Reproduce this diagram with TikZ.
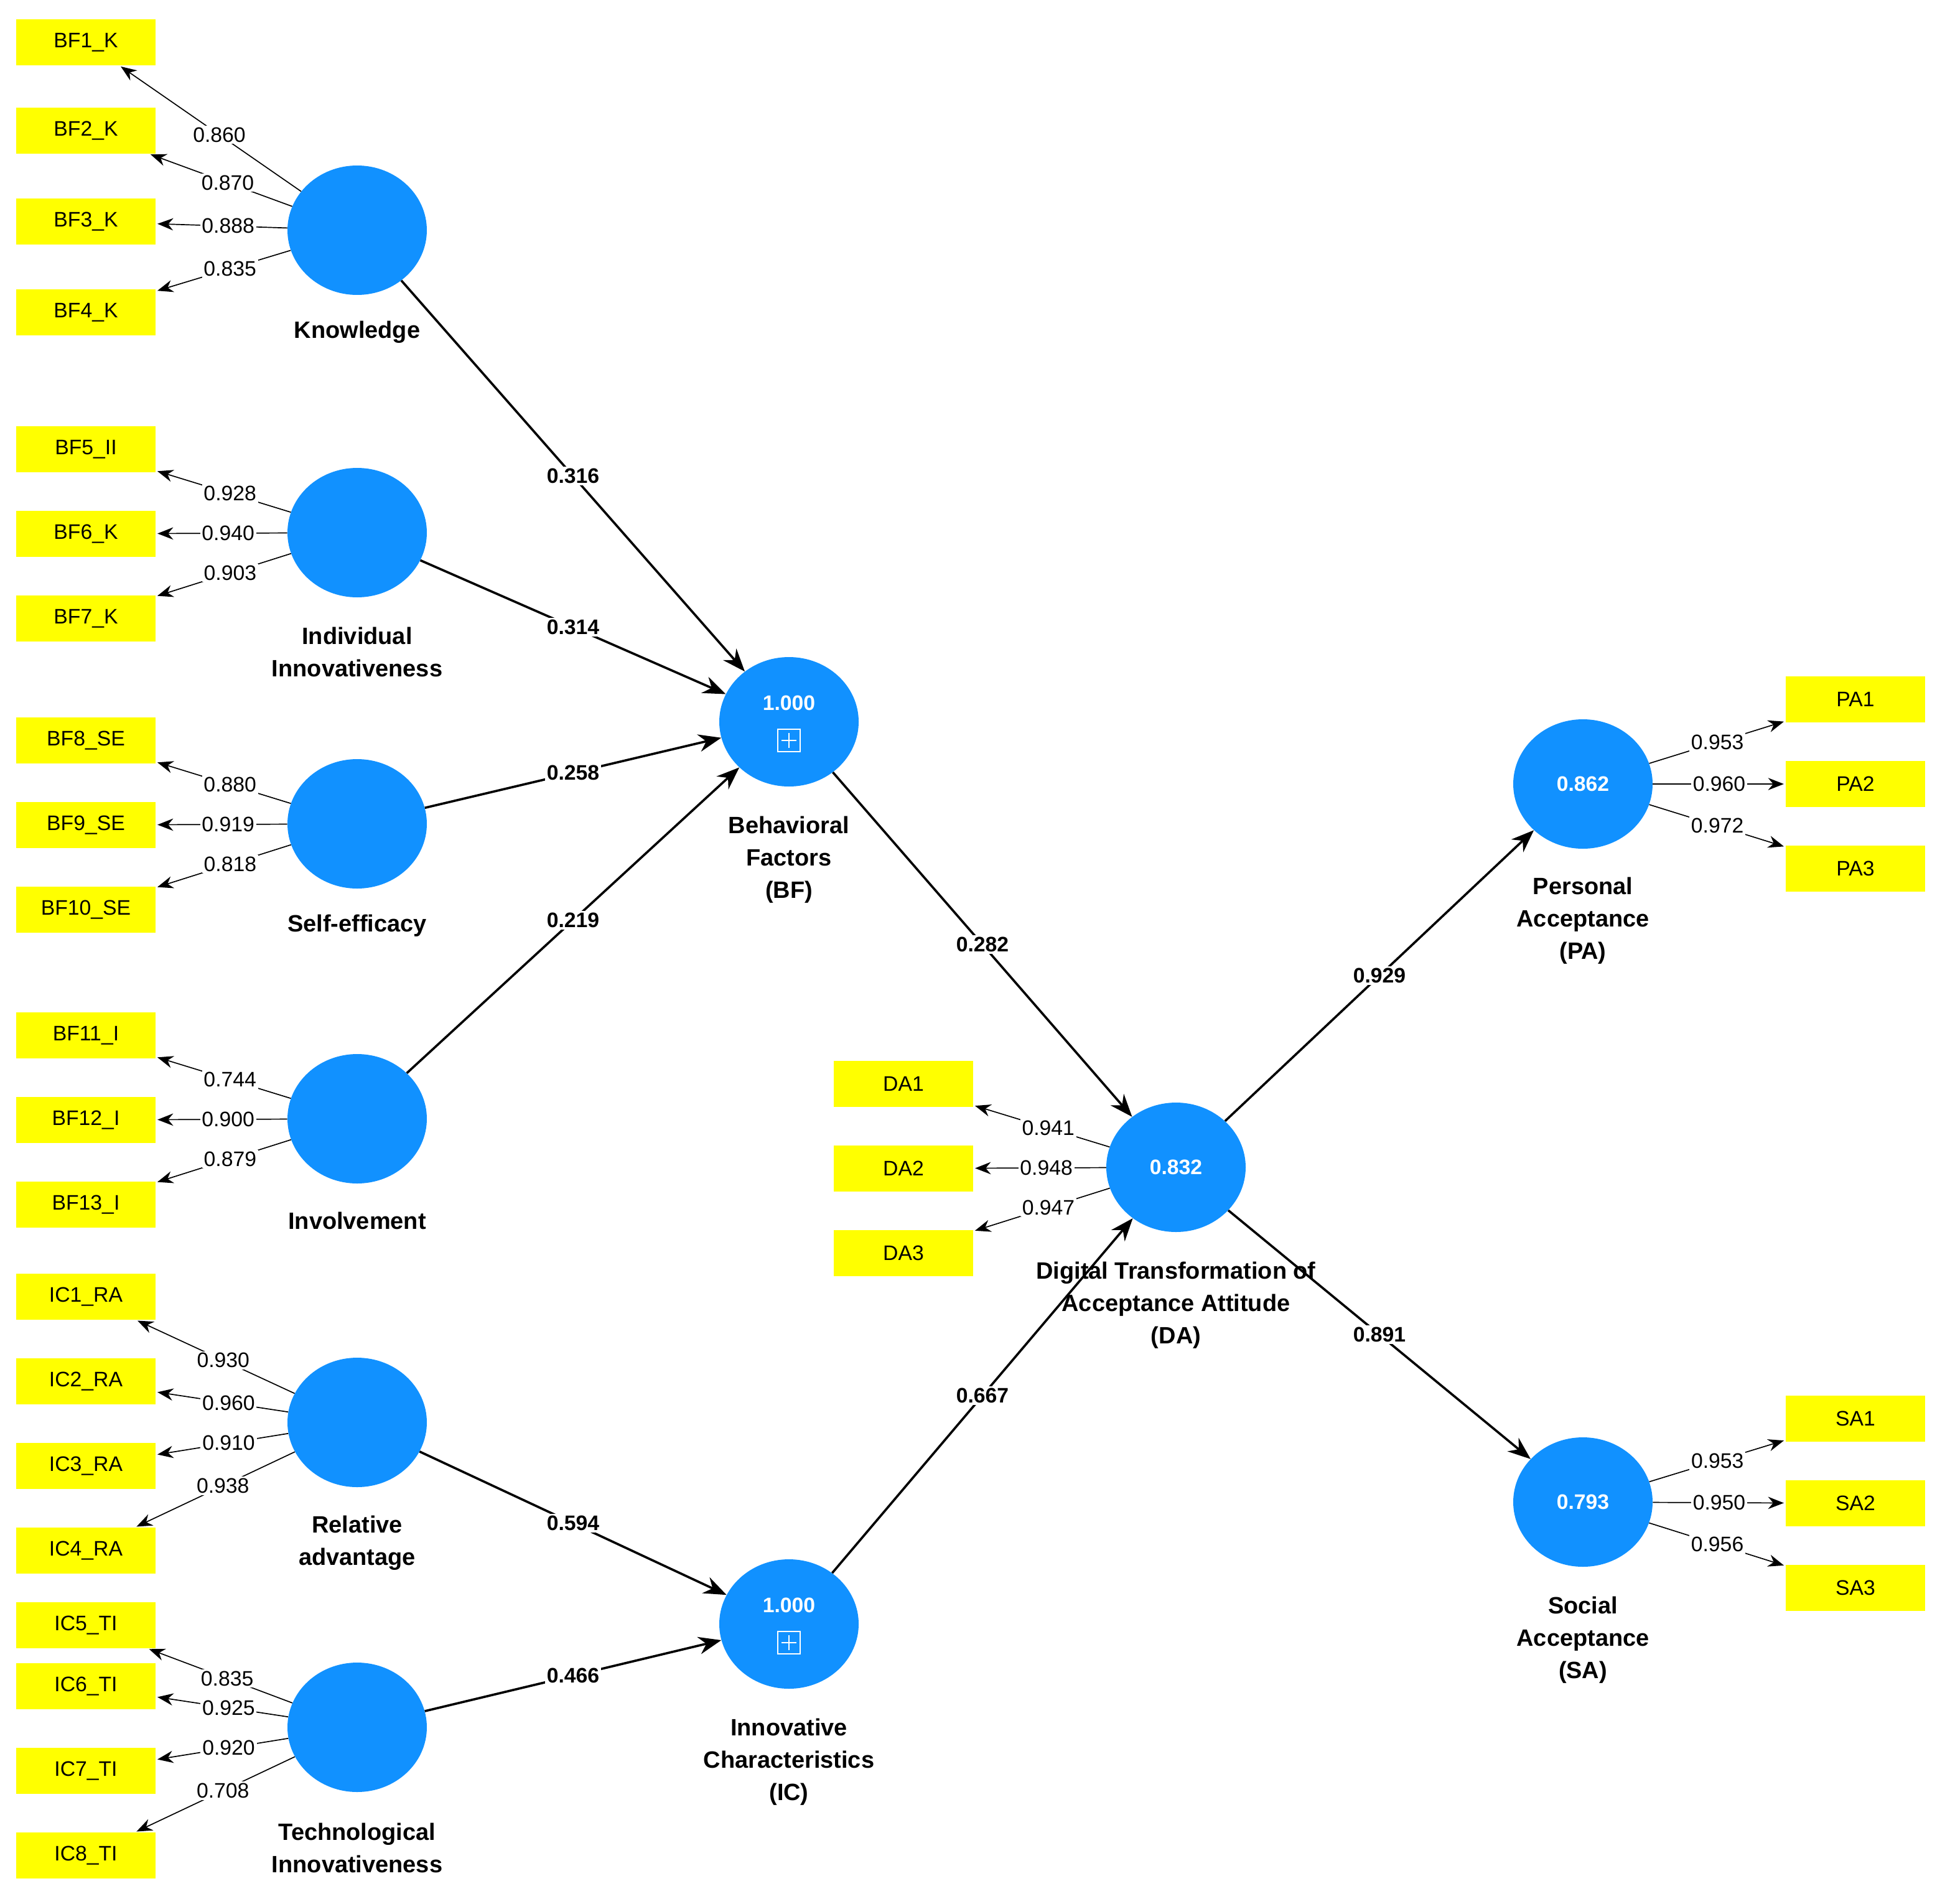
\documentclass[tikz,border=0pt]{standalone}
\usepackage{fontspec}
\setmainfont{Liberation Sans}
\usetikzlibrary{arrows.meta,shapes.geometric}
\definecolor{cblue}{RGB}{17,145,255}
\definecolor{cyel}{RGB}{255,255,0}
\begin{document}
\begin{tikzpicture}[x=0.05cm,y=-0.05cm,
 lv/.style={ellipse,fill=cblue,minimum width=5.6cm,minimum height=5.2cm,inner sep=0pt,text=white,font=\fontsize{24}{28}\selectfont\bfseries},
 yb/.style={rectangle,fill=cyel,minimum width=5.6cm,minimum height=1.85cm,inner sep=0pt,font=\fontsize{24}{28}\selectfont},
 capt/.style={align=center,font=\fontsize{27}{37}\selectfont\bfseries},
 load/.style={line width=1.2pt,-{Stealth[length=18pt,width=14pt]},shorten >=2pt},
 path/.style={line width=2.6pt,-{Stealth[length=26pt,width=20pt]}},
 ll/.style={fill=white,inner sep=2pt,font=\fontsize{24}{28}\selectfont},
 pl/.style={fill=white,inner sep=2pt,font=\fontsize{24}{28}\selectfont\bfseries}]
\useasboundingbox[fill=white] (0,0) rectangle (1567,1529.5);
\node[lv] (K) at (287,185) {};
\node[lv] (II) at (287,428) {};
\node[lv] (SE) at (287,662) {};
\node[lv] (IN) at (287,899) {};
\node[lv] (RA) at (287,1143) {};
\node[lv] (TI) at (287,1388) {};
\node[lv] (BF) at (634,580) {};
\node[lv] (IC) at (634,1305) {};
\node[lv] (DA) at (945,938) {0.832};
\node[lv] (PA) at (1272,630) {0.862};
\node[lv] (SA) at (1272,1207) {0.793};
\foreach \c in {BF,IC}{
 \node[text=white,font=\fontsize{24}{28}\selectfont\bfseries] (\c t) at ([yshift=0.75cm]\c.center) {1.000};
 \draw[white,line width=1.2pt] ([yshift=-0.75cm]\c.center) ++(-0.45cm,-0.45cm) rectangle ++(0.9cm,0.9cm);
 \draw[white,line width=1.2pt] ([yshift=-0.75cm]\c.center) ++(-0.3cm,0) -- ++(0.6cm,0) ([yshift=-0.75cm]\c.center) ++(0,-0.3cm) -- ++(0,0.6cm);
}
\node[capt] (cK) at (287,267) {Knowledge};
\node[capt] (cII) at (287,524) {Individual\\Innovativeness};
\node[capt] (cSE) at (287,744) {Self-efficacy};
\node[capt] (cIN) at (287,981) {Involvement};
\node[capt] (cRA) at (287,1240) {Relative\\advantage};
\node[capt] (cTI) at (287,1485) {Technological\\Innovativeness};
\node[capt] (cBF) at (634,691) {Behavioral\\Factors\\(BF)};
\node[capt] (cIC) at (634,1416) {Innovative\\Characteristics\\(IC)};
\node[capt] (cDA) at (945,1049) {Digital Transformation of\\Acceptance Attitude\\(DA)};
\node[capt] (cPA) at (1272,740) {Personal\\Acceptance\\(PA)};
\node[capt] (cSA) at (1272,1318) {Social\\Acceptance\\(SA)};
\foreach \n/\t/\y/\c/\v in {
 k1/BF1\_K/34/K/0.860, k2/BF2\_K/105/K/0.870, k3/BF3\_K/178/K/0.888, k4/BF4\_K/251/K/0.835,
 i5/BF5\_II/361/II/0.928, i6/BF6\_K/429/II/0.940, i7/BF7\_K/497/II/0.903,
 s8/BF8\_SE/595/SE/0.880, s9/BF9\_SE/663/SE/0.919, s10/BF10\_SE/731/SE/0.818,
 v11/BF11\_I/832/IN/0.744, v12/BF12\_I/900/IN/0.900, v13/BF13\_I/968/IN/0.879,
 r1/IC1\_RA/1042/RA/0.930, r2/IC2\_RA/1110/RA/0.960, r3/IC3\_RA/1178/RA/0.910, r4/IC4\_RA/1246/RA/0.938,
 t5/IC5\_TI/1306/TI/0.835, t6/IC6\_TI/1355/TI/0.925, t7/IC7\_TI/1423/TI/0.920, t8/IC8\_TI/1491/TI/0.708}{
 \node[yb] (\n) at (69,\y) {\t};
 \draw[load] (\c) -- node[ll,pos=0.45]{\v} (\n);
}
\foreach \n/\t/\y/\v in {d1/DA1/871/0.941, d2/DA2/939/0.948, d3/DA3/1007/0.947}{
 \node[yb] (\n) at (726,\y) {\t};
 \draw[load] (DA) -- node[ll,pos=0.45]{\v} (\n);
}
\foreach \n/\t/\y/\c/\v in {p1/PA1/562/PA/0.953, p2/PA2/630/PA/0.960, p3/PA3/698/PA/0.972,
 q1/SA1/1140/SA/0.953, q2/SA2/1208/SA/0.950, q3/SA3/1276/SA/0.956}{
 \node[yb] (\n) at (1491,\y) {\t};
 \draw[load] (\c) -- node[ll,pos=0.5]{\v} (\n);
}
\draw[path] (K) -- node[pl]{0.316} (BF);
\draw[path] (II) -- node[pl]{0.314} (BF);
\draw[path] (SE) -- node[pl]{0.258} (BF);
\draw[path] (IN) -- node[pl]{0.219} (BF);
\draw[path] (RA) -- node[pl]{0.594} (IC);
\draw[path] (TI) -- node[pl]{0.466} (IC);
\draw[path] (BF) -- node[pl]{0.282} (DA);
\draw[path] (IC) -- node[pl]{0.667} (DA);
\draw[path] (DA) -- node[pl]{0.929} (PA);
\draw[path] (DA) -- node[pl]{0.891} (SA);
\end{tikzpicture}
\end{document}
